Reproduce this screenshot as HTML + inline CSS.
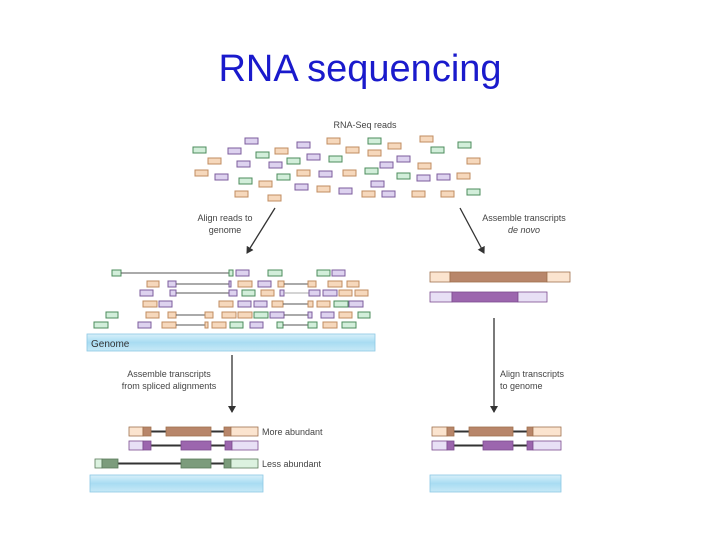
<!DOCTYPE html>
<html><head><meta charset="utf-8"><style>
html,body{margin:0;padding:0;background:#fff;}
svg{display:block;font-family:"Liberation Sans",sans-serif;}
</style></head><body>
<svg id="s" width="720" height="540" viewBox="0 0 720 540" xmlns="http://www.w3.org/2000/svg">
<defs>
<linearGradient id="gb" x1="0" y1="0" x2="0" y2="1"><stop offset="0" stop-color="#d8f0fa"/><stop offset="0.5" stop-color="#a8dcf2"/><stop offset="1" stop-color="#c8e9f7"/></linearGradient>
<marker id="ah" markerWidth="8" markerHeight="8" refX="6" refY="4" orient="auto" markerUnits="userSpaceOnUse"><path d="M0,0 L7,4 L0,8 z" fill="#333"/></marker>
</defs>
<text x="360" y="81" font-family="Liberation Sans, sans-serif" font-size="38" fill="#1a1acc" text-anchor="middle" font-family="Calibri">RNA sequencing</text>
<text x="365" y="128" font-size="9" fill="#444" text-anchor="middle">RNA-Seq reads</text>
<g id="reads"></g>
<g id="al"></g>
<rect x="87" y="334" width="288" height="17" fill="url(#gb)" stroke="#8cc8e4" stroke-width="0.8"/>
<text x="91" y="347" font-size="10" fill="#333">Genome</text>
<g stroke="#333" stroke-width="1.3" fill="none">
<line x1="275" y1="208" x2="247" y2="253" marker-end="url(#ah)"/>
<line x1="460" y1="208" x2="484" y2="253" marker-end="url(#ah)"/>
<line x1="232" y1="355" x2="232" y2="412" marker-end="url(#ah)"/>
<line x1="494" y1="318" x2="494" y2="412" marker-end="url(#ah)"/>
</g>
<g font-size="9" fill="#444">
<text x="225" y="221" text-anchor="middle">Align reads to</text>
<text x="225" y="233" text-anchor="middle">genome</text>
<text x="524" y="221" text-anchor="middle">Assemble transcripts</text>
<text x="524" y="233" text-anchor="middle" font-style="italic">de novo</text>
<text x="169" y="377" text-anchor="middle">Assemble transcripts</text>
<text x="169" y="389" text-anchor="middle">from spliced alignments</text>
<text x="500" y="377">Align transcripts</text>
<text x="500" y="389">to genome</text>
<text x="262" y="435">More abundant</text>
<text x="262" y="467">Less abundant</text>
</g>
<g id="tx"></g>
<rect x="90" y="475" width="173" height="17" fill="url(#gb)" stroke="#8cc8e4" stroke-width="0.8"/>
<rect x="430" y="475" width="131" height="17" fill="url(#gb)" stroke="#8cc8e4" stroke-width="0.8"/>
</svg>
<script>
var NS="http://www.w3.org/2000/svg";
var C={o:["#f6d8bc","#c08c60"],p:["#ddd2ef","#7c5c9c"],g:["#d2eeda","#4c8c5c"]};
function R(par,x,y,w,h,f,s,sw){var r=document.createElementNS(NS,"rect");r.setAttribute("x",x);r.setAttribute("y",y);r.setAttribute("width",w);r.setAttribute("height",h);r.setAttribute("fill",f);r.setAttribute("stroke",s);r.setAttribute("stroke-width",sw||1);par.appendChild(r);}
function L(par,x1,y,x2,col,w){var l=document.createElementNS(NS,"line");l.setAttribute("x1",x1);l.setAttribute("x2",x2);l.setAttribute("y1",y);l.setAttribute("y2",y);l.setAttribute("stroke",col||"#555");l.setAttribute("stroke-width",w||1);par.appendChild(l);}
var g=document.getElementById("reads");
var rd="g193,147 p245,138 p297,142 o327,138 g368,138 o420,136 g458,142 o208,158 p228,148 g256,152 o275,148 p237,161 p269,162 g287,158 p307,154 g329,156 o346,147 o368,150 o388,143 p397,156 g431,147 o467,158 p380,162 o418,163 o195,170 p215,174 g239,178 o259,181 g277,174 o297,170 p319,171 o343,170 g365,168 g397,173 p417,175 p437,174 o457,173 p371,181 p295,184 o317,186 p339,188 o362,191 p382,191 o412,191 o441,191 g467,189 o235,191 o268,195".split(" ");
rd.forEach(function(s){var c=C[s[0]],xy=s.slice(1).split(",");R(g,+xy[0],+xy[1],13,6,c[0],c[1]);});
var a=document.getElementById("al");
// rows: [y, items] item: [type,x1,x2] or ["L",x1,x2]
var rows=[
[270,[["g",112,121],["L",121,229],["g",229,233],["p",236,249],["g",268,282],["g",317,330],["p",332,345]]],
[281,[["o",147,159],["p",168,176],["L",176,229],["p",229,231],["o",238,252],["p",258,271],["o",278,284],["L",284,308],["o",308,316],["o",328,342],["o",347,359]]],
[290,[["p",140,153],["p",170,176],["L",176,229],["p",229,237],["g",242,255],["o",261,274],["p",280,284],["l",284,309],["p",309,320],["p",323,337],["o",339,352],["o",355,368]]],
[301,[["o",143,157],["p",159,172],["o",219,233],["p",238,251],["p",254,267],["o",272,283],["L",283,308],["o",308,313],["o",317,330],["g",334,348],["p",349,363]]],
[312,[["g",106,118],["o",146,159],["o",168,176],["L",176,205],["o",205,213],["o",222,236],["o",238,252],["g",254,268],["p",270,284],["L",284,308],["p",308,312],["p",321,334],["o",339,352],["g",358,370]]],
[322,[["g",94,108],["p",138,151],["o",162,176],["L",176,205],["o",205,208],["o",212,226],["g",230,243],["p",250,263],["g",277,283],["L",283,308],["g",308,317],["o",323,337],["g",342,356]]]];
rows.forEach(function(r){var y=r[0];r[1].forEach(function(it){
 if(it[0]=="L")L(a,it[1],y+3,it[2],"#555",1);
 else if(it[0]=="l")L(a,it[1],y+3,it[2],"#aaa",1);
 else{var c=C[it[0]];R(a,it[1],y,it[2]-it[1],6,c[0],c[1]);}
});});
var t=document.getElementById("tx");
var D={o:["#fbe4cf","#b8866a","#a0704e"],p:["#e8e0f5","#9c66ae","#7c4c8e"],g:["#dcf2e0","#7c9c7c","#5a7a5a"]};
function T(y,k,segs){var c=D[k];L(t,segs[0][0],y+4.5,segs[segs.length-1][1],"#333",2);
 segs.forEach(function(s){R(t,s[0],y,s[1]-s[0],9,s[2]?c[1]:c[0],c[2],0.8);});}
T(427,"o",[[129,143],[143,151,1],[166,211,1],[224,231,1],[231,258]]);
T(441,"p",[[129,143],[143,151,1],[181,211,1],[225,232,1],[232,258]]);
T(459,"g",[[95,102],[102,118,1],[181,211,1],[224,231,1],[231,258]]);
T(427,"o",[[432,447],[447,454,1],[469,513,1],[527,533,1],[533,561]]);
T(441,"p",[[432,447],[447,454,1],[483,513,1],[527,533,1],[533,561]]);
R(t,430,272,20,10,D.o[0],D.o[2],0.8);R(t,450,272,97,10,D.o[1],D.o[2],0.8);R(t,547,272,23,10,D.o[0],D.o[2],0.8);
R(t,430,292,22,10,D.p[0],D.p[2],0.8);R(t,452,292,66,10,D.p[1],D.p[2],0.8);R(t,518,292,29,10,D.p[0],D.p[2],0.8);
</script>
</body></html>
